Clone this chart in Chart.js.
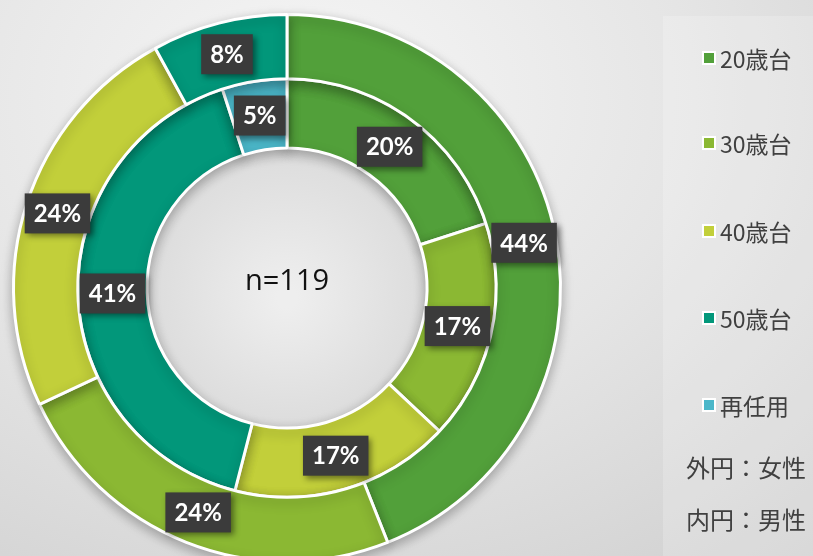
<!DOCTYPE html>
<html>
<head>
<meta charset="utf-8">
<script src="https://cdn.jsdelivr.net/npm/chart.js@4.4.0/dist/chart.umd.min.js"></script>
<style>
html,body{margin:0;padding:0;width:813px;height:556px;overflow:hidden;}
body{background:radial-gradient(ellipse 95% 110% at 38% 18%, #f6f6f6 0%, #e5e5e5 50%, #cfcfcf 100%);font-family:"Noto Sans CJK JP",sans-serif;}
#wrap{position:absolute;left:0;top:0;width:813px;height:570px;}
#panel{position:absolute;left:663px;top:16px;width:150px;height:540px;background:rgba(255,255,255,0.2);}
.item{position:absolute;left:702px;height:24px;display:flex;align-items:center;font-size:23px;color:#404040;}
.sw{width:10px;height:10px;border:2.5px solid #fff;margin-right:4px;}
.note{position:absolute;left:686px;font-size:24px;color:#404040;line-height:26px;}
</style>
</head>
<body>
<div id="panel"></div>
<div id="wrap"><canvas id="chart"></canvas></div>
<div id="legend"></div>
<script>
// data
const labels = ["20歳台", "30歳台", "40歳台", "50歳台", "再任用"];
const female = [44, 24, 24, 8, 0];   // outer ring
const male = [20, 17, 17, 41, 5];    // inner ring
const colors = ["#52a03a", "#8bb833", "#c2cf3a", "#02977a", "#4bb7c9"];
const centerText = "n=119";
const notes = ["外円：女性", "内円：男性"];

// html legend
let legend = document.getElementById("legend");
let legendY = [60, 145, 233, 320, 407];
labels.forEach((l, i) => {
    legend.innerHTML += `<div class="item" style="top:${legendY[i]-14}px"><span class="sw" style="background:${colors[i]}"></span>${l}</div>`;
});
let noteY = [469, 521];
notes.forEach((n, i) => {
    legend.innerHTML += `<div class="note" style="top:${noteY[i]-15}px">${n}</div>`;
});

// hole fill + ring shadow
const ringDeco = {
    id: 'ringDeco',
    beforeDatasetsDraw(chart){
        let arc = chart.getDatasetMeta(1).data[0];
        let ctx = chart.ctx;
        ctx.save();
        let g = ctx.createRadialGradient(arc.x, arc.y + 10, 10, arc.x, arc.y, arc.innerRadius);
        g.addColorStop(0, "#eeeeee");
        g.addColorStop(1, "#dcdcdc");
        ctx.fillStyle = g;
        ctx.beginPath();
        ctx.arc(arc.x, arc.y, arc.innerRadius, 0, Math.PI*2);
        ctx.fill();
        ctx.restore();
    },
    beforeDatasetDraw(chart, args){
        let ctx = chart.ctx;
        ctx.save();
        ctx.shadowColor = "rgba(0,0,0,0.28)";
        ctx.shadowBlur = 12;
        ctx.shadowOffsetY = 4;
    },
    afterDatasetDraw(chart){
        chart.ctx.restore();
    }
};

// dark boxed labels + center text
const boxLabels = {
    id: 'boxLabels',
    afterDatasetsDraw(chart){
        let ctx = chart.ctx;
        ctx.save();
        ctx.font = 'bold 24px Lato';
        ctx.textAlign = 'center';
        ctx.textBaseline = 'middle';
        chart.data.datasets.forEach((ds, di) => {
            let meta = chart.getDatasetMeta(di);
            meta.data.forEach((arc, i) => {
                let v = ds.data[i];
                if(!v) return;
                let p = arc.getCenterPoint();
                let txt = v + "%";
                let w = ctx.measureText(txt).width + 18, h = 40;
                ctx.shadowColor = "rgba(0,0,0,0.45)";
                ctx.shadowBlur = 6;
                ctx.shadowOffsetX = 3;
                ctx.shadowOffsetY = 3;
                ctx.fillStyle = "#3b3b3b";
                ctx.fillRect(p.x - w/2, p.y - h/2, w, h);
                ctx.shadowColor = "transparent";
                ctx.fillStyle = "#ffffff";
                ctx.fillText(txt, p.x, p.y + 1);
            });
        });
        let c = chart.getDatasetMeta(0).data[0];
        ctx.font = '29px "Open Sans"';
        ctx.fillStyle = "#111";
        ctx.fillText(centerText, c.x, c.y - 6);
        ctx.restore();
    }
};

new Chart(document.getElementById("chart"), {
    type: 'doughnut',
    data: {
        labels: labels,
        datasets: [
            {label: '女性', data: female, backgroundColor: colors, borderColor: '#fff', borderWidth: 3, weight: 65},
            {label: '男性', data: male, backgroundColor: colors, borderColor: '#fff', borderWidth: 3, weight: 70}
        ]
    },
    options: {
        responsive: true,
        maintainAspectRatio: false,
        animation: false,
        cutout: 140,
        layout: {padding: {top: 13, bottom: 7, left: 12, right: 251}},
        plugins: {legend: {display: false}, tooltip: {enabled: false}}
    },
    plugins: [ringDeco, boxLabels]
});
</script>
</body>
</html>
